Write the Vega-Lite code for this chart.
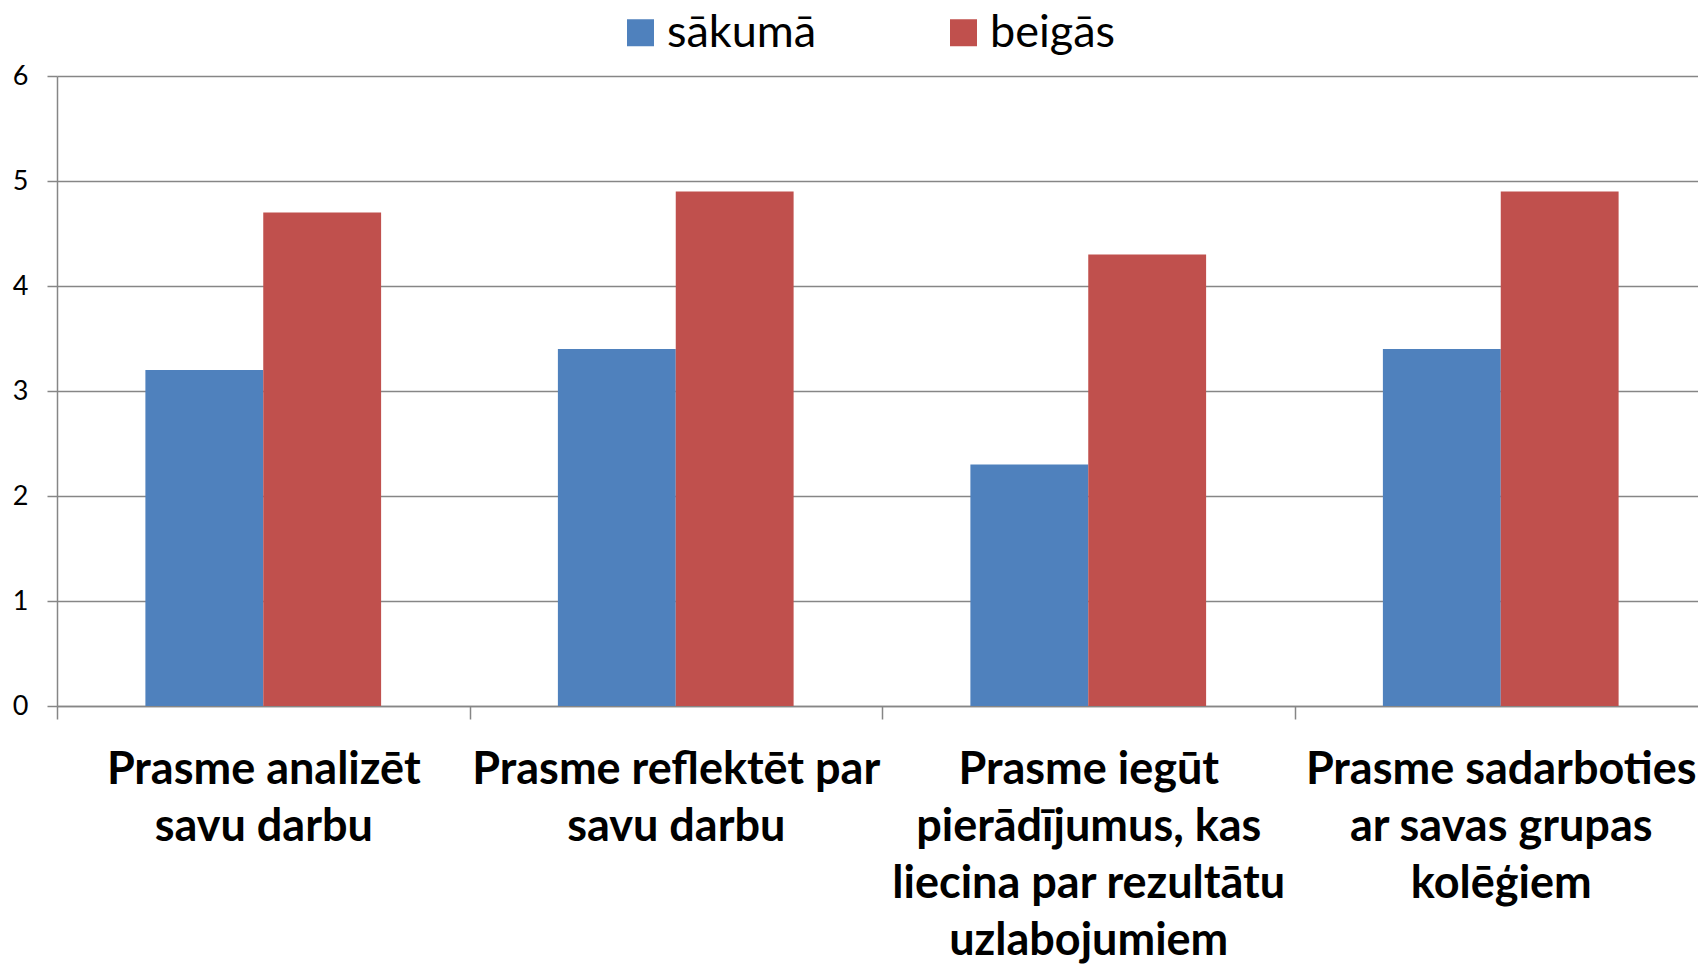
{
  "$schema": "https://vega.github.io/schema/vega-lite/v6.json",
  "autosize": {"type": "none"},
  "padding": {"left": 57, "top": 76, "right": 0, "bottom": 260},
  "width": 1650,
  "height": 630,
  "background": "white",
  "config": {"view": {"stroke": null}, "font": "Lato"},
  "data": {
    "values": [
      {"prasme": "Prasme analizēt|savu darbu", "laiks": "sākumā", "vertiba": 3.2},
      {"prasme": "Prasme analizēt|savu darbu", "laiks": "beigās", "vertiba": 4.7},
      {"prasme": "Prasme reflektēt par|savu darbu", "laiks": "sākumā", "vertiba": 3.4},
      {"prasme": "Prasme reflektēt par|savu darbu", "laiks": "beigās", "vertiba": 4.9},
      {"prasme": "Prasme iegūt|pierādījumus, kas|liecina par rezultātu|uzlabojumiem", "laiks": "sākumā", "vertiba": 2.3},
      {"prasme": "Prasme iegūt|pierādījumus, kas|liecina par rezultātu|uzlabojumiem", "laiks": "beigās", "vertiba": 4.3},
      {"prasme": "Prasme sadarboties|ar savas grupas|kolēģiem", "laiks": "sākumā", "vertiba": 3.4},
      {"prasme": "Prasme sadarboties|ar savas grupas|kolēģiem", "laiks": "beigās", "vertiba": 4.9}
    ]
  },
  "mark": {"type": "bar"},
  "encoding": {
    "x": {
      "field": "prasme",
      "type": "nominal",
      "sort": null,
      "scale": {"paddingInner": 0, "paddingOuter": 0},
      "axis": {
        "title": null,
        "labelExpr": "split(datum.label, '|')",
        "labelAngle": 0,
        "tickBand": "extent",
        "grid": false,
        "domainColor": "#868686",
        "domainWidth": 1.5,
        "tickColor": "#868686",
        "tickWidth": 1.5,
        "tickSize": 13,
        "labelFont": "Lato",
        "labelFontSize": 45,
        "labelFontWeight": "bold",
        "labelColor": "black",
        "labelLineHeight": 57,
        "labelPadding": 28,
        "labelLimit": 1000,
        "labelBaseline": "top"
      }
    },
    "xOffset": {
      "field": "laiks",
      "type": "nominal",
      "sort": ["sākumā", "beigās"],
      "scale": {"paddingInner": 0, "paddingOuter": 0.75}
    },
    "y": {
      "field": "vertiba",
      "type": "quantitative",
      "scale": {"domain": [0, 6], "nice": false},
      "axis": {
        "title": null,
        "values": [0, 1, 2, 3, 4, 5, 6],
        "grid": true,
        "gridColor": "#868686",
        "gridWidth": 1.5,
        "domainColor": "#868686",
        "domainWidth": 1.5,
        "tickColor": "#868686",
        "tickWidth": 1.5,
        "tickSize": 10,
        "labelFont": "Lato",
        "labelFontSize": 27,
        "labelColor": "black",
        "labelPadding": 19
      }
    },
    "color": {
      "field": "laiks",
      "type": "nominal",
      "sort": ["sākumā", "beigās"],
      "scale": {"domain": ["sākumā", "beigās"], "range": ["#4F81BD", "#C0504D"]},
      "legend": {
        "title": null,
        "orient": "none",
        "direction": "horizontal",
        "legendX": 561,
        "legendY": -66,
        "symbolType": "square",
        "symbolSize": 729,
        "symbolStrokeWidth": 0,
        "symbolOpacity": 1,
        "labelFont": "Lato",
        "labelFontSize": 45,
        "labelColor": "black",
        "labelOffset": 4,
        "columnPadding": 124,
        "labelLimit": 1000
      }
    }
  }
}
